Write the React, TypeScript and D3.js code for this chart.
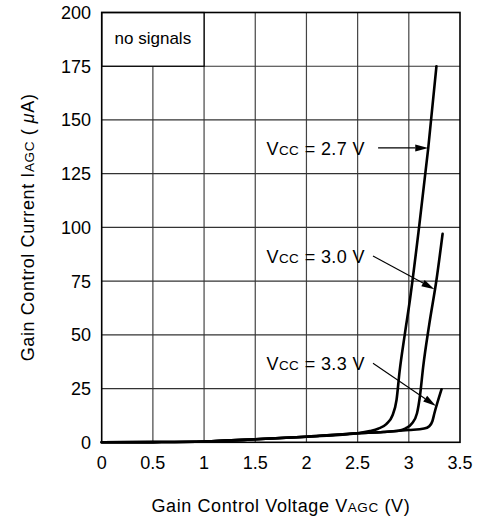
import React from "react";
import * as d3 from "d3";

const xTicks = [0, 0.5, 1, 1.5, 2, 2.5, 3, 3.5];
const yTicks = [0, 25, 50, 75, 100, 125, 150, 175, 200];

const baseline: [number, number][] = [
  [0, 0], [0.5, 0.1], [1.0, 0.4], [1.5, 1.4], [2.0, 2.6], [2.5, 4.2],
];
const curve27: [number, number][] = [
  ...baseline,
  [2.62, 5.2], [2.7, 6.3], [2.78, 8.5], [2.84, 12.5], [2.88, 19.7], [2.91, 33],
  [2.96, 50], [3.01, 66], [3.1, 100], [3.19, 137], [3.27, 175],
];
const curve30: [number, number][] = [
  ...baseline,
  [2.75, 4.8], [2.9, 5.4], [2.97, 6.5], [3.03, 8.7], [3.08, 13.5], [3.11, 22],
  [3.14, 35], [3.2, 55], [3.27, 75.5], [3.33, 97],
];
const curve33: [number, number][] = [
  ...baseline,
  [2.75, 4.8], [3.0, 5.7], [3.15, 6.4], [3.2, 7.5], [3.23, 9.8], [3.25, 13.5],
  [3.32, 24.7],
];
const series = [curve27, curve30, curve33];

const labels = [
  { v: "2.7", tx: 1.61, ty: 133.7, ax1: 2.70, ay1: 137, ax2: 3.19, ay2: 137 },
  { v: "3.0", tx: 1.61, ty: 83.4, ax1: 2.65, ay1: 86.7, ax2: 3.25, ay2: 71.2 },
  { v: "3.3", tx: 1.61, ty: 33.7, ax1: 2.65, ay1: 36.8, ax2: 3.265, ay2: 16.9 },
];

const W = 478, H = 523;
const left = 101.7, right = 460, top = 12.5, bottom = 442.3;
const font = "'Liberation Sans', Arial, Helvetica, sans-serif";

export default function App() {
  const x = d3.scaleLinear().domain([0, 3.5]).range([left, right]);
  const y = d3.scaleLinear().domain([0, 200]).range([bottom, top]);
  const line = d3
    .line<[number, number]>()
    .x((d) => x(d[0]))
    .y((d) => y(d[1]))
    .curve(d3.curveMonotoneX);

  const arrow = (x1: number, y1: number, x2: number, y2: number, key: number) => {
    const px1 = x(x1), py1 = y(y1), px2 = x(x2), py2 = y(y2);
    const ang = Math.atan2(py2 - py1, px2 - px1);
    const L = 13, Wd = 3.5;
    const bx = px2 - L * Math.cos(ang), by = py2 - L * Math.sin(ang);
    const nx = -Math.sin(ang) * Wd, ny = Math.cos(ang) * Wd;
    return (
      <g key={key}>
        <line x1={px1} y1={py1} x2={bx} y2={by} stroke="#000" strokeWidth={1.1} />
        <polygon points={`${px2},${py2} ${bx + nx},${by + ny} ${bx - nx},${by - ny}`} fill="#000" />
      </g>
    );
  };

  return (
    <svg width={W} height={H} style={{ position: "absolute", left: 0, top: 0, background: "#fff" }} fontFamily={font}>
      <rect x={0} y={0} width={W} height={H} fill="#fff" />
      {xTicks.slice(1, -1).map((t) => (
        <line key={"gx" + t} x1={x(t)} x2={x(t)} y1={top} y2={bottom} stroke="#444" strokeWidth={1.2} />
      ))}
      {yTicks.slice(1, -1).map((t) => (
        <line key={"gy" + t} x1={left} x2={right} y1={y(t)} y2={y(t)} stroke="#333" strokeWidth={1.2} />
      ))}
      {/* no signals box */}
      <rect x={x(0)} y={y(200)} width={x(1) - x(0)} height={y(175) - y(200)} fill="#fff" stroke="#000" strokeWidth={1.3} />
      <text x={x(0.5)} y={y(185.3)} fontSize={17} textAnchor="middle">no signals</text>
      <rect x={left} y={top} width={right - left} height={bottom - top} fill="none" stroke="#000" strokeWidth={1.6} />
      {series.map((s, i) => (
        <path key={i} d={line(s) || ""} fill="none" stroke="#000" strokeWidth={2.6} strokeLinejoin="round" strokeLinecap="round" />
      ))}
      {labels.map((l, i) => (
        <g key={"l" + i}>
          <text x={x(l.tx)} y={y(l.ty)} fontSize={18} letterSpacing={0.4}>
            V<tspan fontSize={13.5}>CC</tspan> = {l.v} V
          </text>
          {arrow(l.ax1, l.ay1, l.ax2, l.ay2, i)}
        </g>
      ))}
      {xTicks.map((t) => (
        <text key={"tx" + t} x={x(t)} y={469} fontSize={18} textAnchor="middle">{t}</text>
      ))}
      {yTicks.map((t) => (
        <text key={"ty" + t} x={91} y={y(t)} dy="0.36em" fontSize={18} textAnchor="end">{t}</text>
      ))}
      <text x={(left + right) / 2} y={512} fontSize={18} textAnchor="middle" letterSpacing={0.6}>
        Gain Control Voltage V<tspan fontSize={13.5}>AGC</tspan> (V)
      </text>
      <text transform={`translate(34,${(top + bottom) / 2}) rotate(-90)`} fontSize={18} textAnchor="middle" letterSpacing={0.6}>
        Gain Control Current I<tspan fontSize={13.5}>AGC</tspan> ( <tspan fontStyle="italic">μ</tspan>A)
      </text>
    </svg>
  );
}
